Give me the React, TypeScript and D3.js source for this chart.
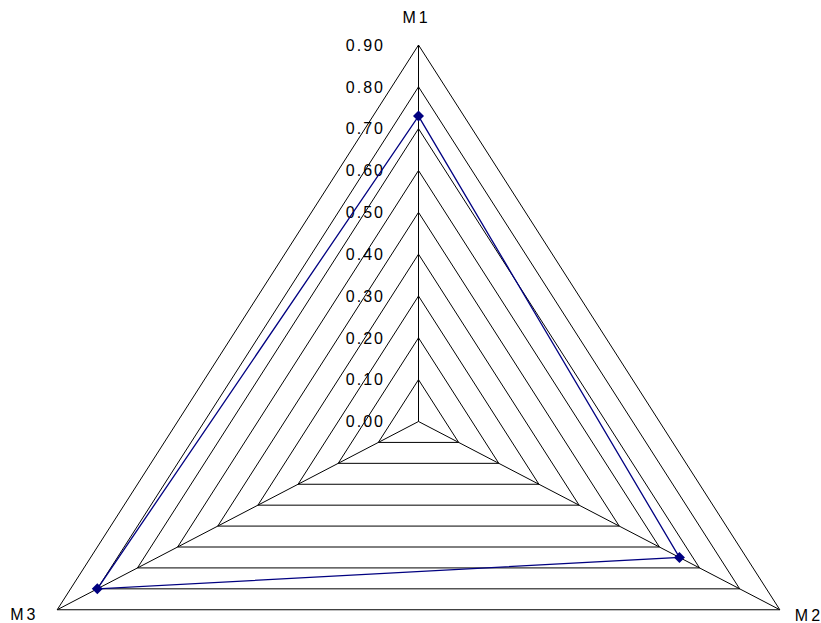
import React from "react";
import * as d3 from "d3";

// axis names, clockwise from top
const categories = ["M1", "M2", "M3"];
// series values
const values = [0.73, 0.65, 0.8];
// radial tick labels
const ticks = [0, 0.1, 0.2, 0.3, 0.4, 0.5, 0.6, 0.7, 0.8, 0.9];

const W = 821;
const H = 623;
const cx = 418.5;
const cy = 421.5;
const rx = 417.2; // horizontal stretch of the plot
const ry = 376.5;

export default function App() {
  const r = d3.scaleLinear().domain([0, 0.9]).range([0, 1]);
  const yTick = d3.scaleLinear().domain([0, 0.9]).range([cy, cy - ry]);
  const angle = d3
    .scalePoint<string>()
    .domain(categories)
    .range([0, (2 * Math.PI * (categories.length - 1)) / categories.length]);

  const pt = (cat: string, v: number): [number, number] => {
    const a = angle(cat) as number;
    return [cx + r(v) * rx * Math.sin(a), cy - r(v) * ry * Math.cos(a)];
  };

  const ring = d3.line<[number, number]>().curve(d3.curveLinearClosed);
  const seriesPts = categories.map((c, i) => pt(c, values[i]));

  const labelPos: Record<string, { dx: number; dy: number; anchor: string }> = {
    M1: { dx: -2, dy: -22, anchor: "middle" },
    M2: { dx: 15, dy: 11, anchor: "start" },
    M3: { dx: -47, dy: 10, anchor: "start" },
  };

  return (
    <svg
      width={W}
      height={H}
      style={{ position: "absolute", left: 0, top: 0, background: "#fff" }}
      fontFamily="Arial, 'Liberation Sans', sans-serif"
    >
      {/* grid triangles */}
      {ticks.slice(1).map((t) => (
        <path
          key={t}
          d={ring(categories.map((c) => pt(c, t))) as string}
          fill="none"
          stroke="#000"
          strokeWidth={1}
        />
      ))}
      {/* spokes */}
      {categories.map((c) => {
        const [x, y] = pt(c, 0.9);
        return <line key={c} x1={cx} y1={cy} x2={x} y2={y} stroke="#000" strokeWidth={1} />;
      })}
      {/* tick labels */}
      {ticks.map((t) => (
        <text
          key={t}
          x={385}
          y={yTick(t) + 5.7}
          textAnchor="end"
          fontSize={16}
          letterSpacing={2}
          fill="#000"
        >
          {t.toFixed(2)}
        </text>
      ))}
      {/* category labels */}
      {categories.map((c) => {
        const [x, y] = pt(c, 0.9);
        const p = labelPos[c];
        return (
          <text
            key={c}
            x={x + p.dx}
            y={y + p.dy}
            textAnchor={p.anchor}
            fontSize={16}
            letterSpacing={3}
            fill="#000"
          >
            {c}
          </text>
        );
      })}
      {/* series */}
      <path d={ring(seriesPts) as string} fill="none" stroke="#000080" strokeWidth={1.3} />
      {seriesPts.map(([x, y], i) => (
        <path
          key={i}
          d={`M${x},${y - 5.5}L${x + 5.5},${y}L${x},${y + 5.5}L${x - 5.5},${y}Z`}
          fill="#000080"
        />
      ))}
    </svg>
  );
}
